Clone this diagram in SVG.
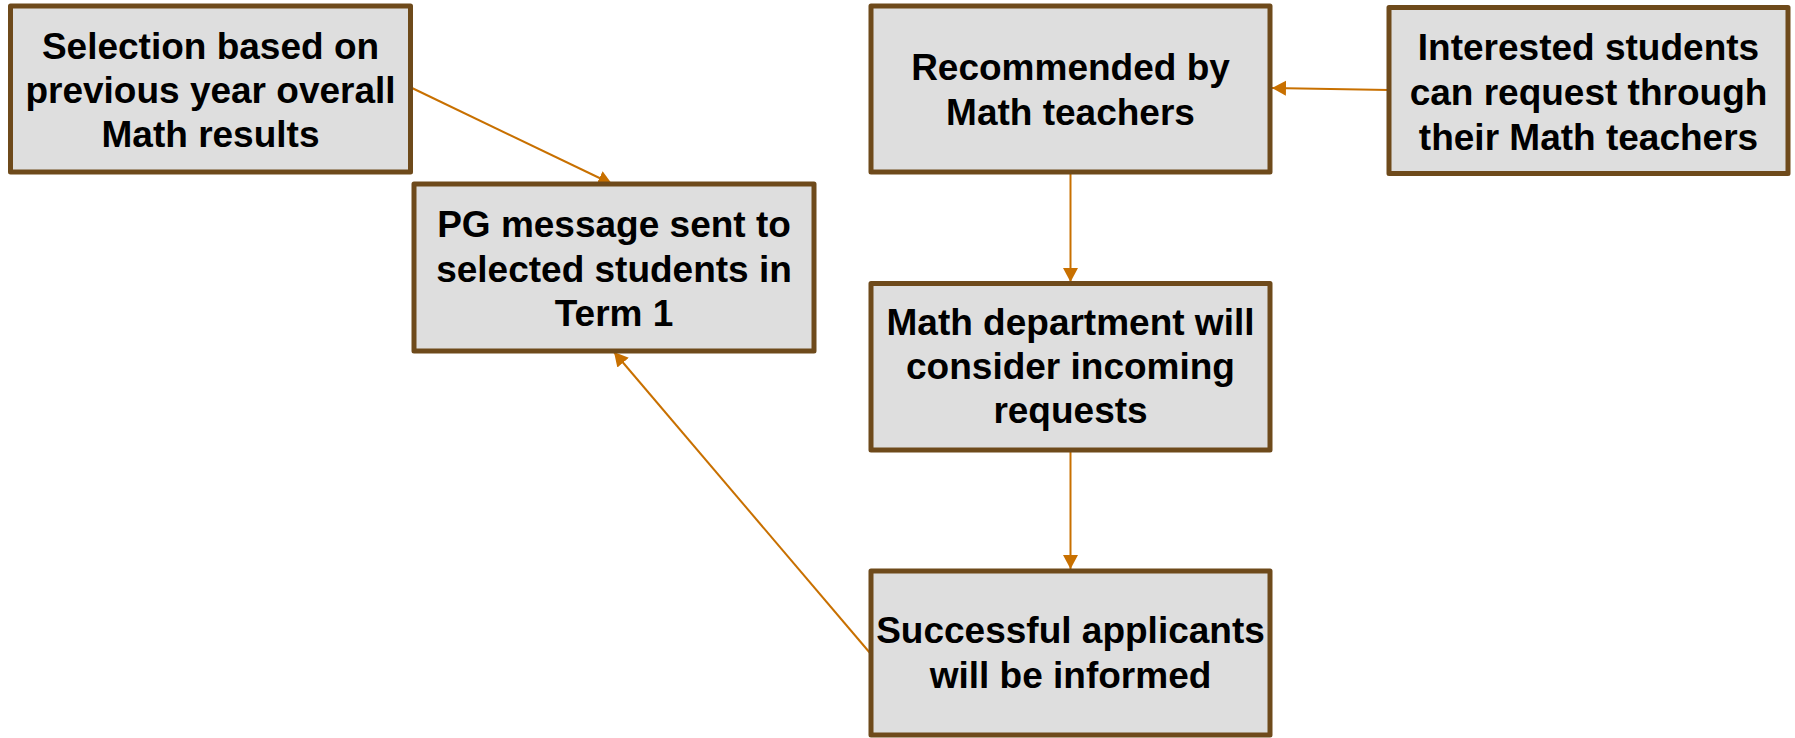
<svg xmlns="http://www.w3.org/2000/svg" width="1795" height="738" viewBox="0 0 1795 738">
  <style>
    .box { fill: #DEDEDE; stroke: #6E4A1B; stroke-width: 5; stroke-linejoin: round; }
    .lbl { font-family: "Liberation Sans", Arial, sans-serif; font-weight: bold; font-size: 37px; fill: #000; text-anchor: middle; }
    .conn { stroke: #C87000; stroke-width: 2; fill: none; marker-end: url(#arrow); }
  </style>
  <defs>
    <marker id="arrow" markerUnits="userSpaceOnUse" markerWidth="16" markerHeight="16" refX="14" refY="7.5" orient="auto">
      <path d="M0,0 L14,7.5 L0,15 z" fill="#C87000"/>
    </marker>
  </defs>
  <rect width="1795" height="738" fill="#FFFFFF"/>

  <g id="connectors">
    <line class="conn" x1="412" y1="88" x2="612" y2="184"/>
    <line class="conn" x1="1389" y1="90" x2="1272" y2="88"/>
    <line class="conn" x1="1070.5" y1="172" x2="1070.5" y2="282"/>
    <line class="conn" x1="1070.5" y1="450" x2="1070.5" y2="569"/>
    <line class="conn" x1="870" y1="653" x2="614" y2="352"/>
  </g>

  <g id="node-selection">
    <rect class="box" x="10.5" y="6" width="400" height="166"/>
    <text class="lbl" x="210.5" y="59">Selection based on</text>
    <text class="lbl" x="210.5" y="103">previous year overall</text>
    <text class="lbl" x="210.5" y="147">Math results</text>
  </g>

  <g id="node-pg-message">
    <rect class="box" x="414" y="184" width="400" height="167"/>
    <text class="lbl" x="614" y="237">PG message sent to</text>
    <text class="lbl" x="614" y="281.5">selected students in</text>
    <text class="lbl" x="614" y="326">Term 1</text>
  </g>

  <g id="node-recommended">
    <rect class="box" x="871" y="6" width="399" height="166"/>
    <text class="lbl" x="1070.5" y="80">Recommended by</text>
    <text class="lbl" x="1070.5" y="125">Math teachers</text>
  </g>

  <g id="node-interested">
    <rect class="box" x="1389" y="7.5" width="399" height="166"/>
    <text class="lbl" x="1588.5" y="60">Interested students</text>
    <text class="lbl" x="1588.5" y="105">can request through</text>
    <text class="lbl" x="1588.5" y="150">their Math teachers</text>
  </g>

  <g id="node-department">
    <rect class="box" x="871" y="283.5" width="399" height="166.5"/>
    <text class="lbl" x="1070.5" y="335">Math department will</text>
    <text class="lbl" x="1070.5" y="379">consider incoming</text>
    <text class="lbl" x="1070.5" y="423">requests</text>
  </g>

  <g id="node-successful">
    <rect class="box" x="871" y="571" width="399" height="164"/>
    <text class="lbl" x="1070.5" y="643">Successful applicants</text>
    <text class="lbl" x="1070.5" y="688">will be informed</text>
  </g>
</svg>
